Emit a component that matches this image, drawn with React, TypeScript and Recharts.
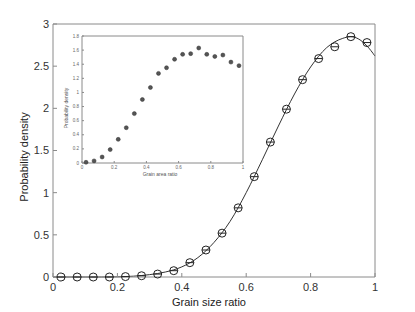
import React from 'react';
import { ComposedChart, ScatterChart, Scatter, Line, XAxis, YAxis } from 'recharts';

// main plot: grain size ratio (bin centres) and measured density
const sizeRatio = [0.025, 0.075, 0.125, 0.175, 0.225, 0.275, 0.325, 0.375, 0.425, 0.475, 0.525, 0.575, 0.625, 0.675, 0.725, 0.775, 0.825, 0.875, 0.925, 0.975];
const sizeDensity = [0, 0, 0, 0, 0.005, 0.015, 0.035, 0.075, 0.17, 0.32, 0.52, 0.82, 1.19, 1.6, 1.99, 2.34, 2.59, 2.73, 2.85, 2.78];

// fitted curve
const fitX = [0, 0.05, 0.1, 0.15, 0.2, 0.25, 0.3, 0.35, 0.4, 0.45, 0.5, 0.55, 0.6, 0.65, 0.7, 0.75, 0.8, 0.85, 0.9, 0.925, 0.95, 0.975, 1];
const fitY = [0, 0, 0, 0, 0.002, 0.01, 0.028, 0.06, 0.12, 0.23, 0.41, 0.66, 1.0, 1.39, 1.79, 2.17, 2.49, 2.72, 2.83, 2.85, 2.82, 2.74, 2.62];

// inset: grain area ratio
const areaRatio = [0.025, 0.075, 0.125, 0.175, 0.225, 0.275, 0.325, 0.375, 0.425, 0.475, 0.525, 0.575, 0.625, 0.675, 0.725, 0.775, 0.825, 0.875, 0.925, 0.975];
const areaDensity = [0.01, 0.03, 0.085, 0.19, 0.335, 0.5, 0.7, 0.9, 1.07, 1.27, 1.35, 1.47, 1.54, 1.55, 1.63, 1.54, 1.51, 1.53, 1.43, 1.38];

const mainXTicks = [0, 0.2, 0.4, 0.6, 0.8, 1];
const mainYTicks = [0, 0.5, 1, 1.5, 2, 2.5, 3];
const insetXTicks = [0, 0.2, 0.4, 0.6, 0.8, 1];
const insetYTicks = [0, 0.2, 0.4, 0.6, 0.8, 1, 1.2, 1.4, 1.6, 1.8];

const sizePoints = sizeRatio.map((x, i) => ({ x, y: sizeDensity[i] }));
const fitPoints = fitX.map((x, i) => ({ x, y: fitY[i] }));
const areaPoints = areaRatio.map((x, i) => ({ x, y: areaDensity[i] }));

const frame = '#8a8a8a';
const fmt = (v: number) => String(v);

const OpenMarker = (props: any) => {
  const { cx, cy } = props;
  return (
    <g>
      <circle cx={cx} cy={cy} r={4} fill="none" stroke="#222" strokeWidth={1} />
      <line x1={cx - 4} x2={cx + 4} y1={cy} y2={cy} stroke="#222" strokeWidth={1} />
    </g>
  );
};

const FilledMarker = (props: any) => {
  const { cx, cy } = props;
  return <circle cx={cx} cy={cy} r={2} fill="#555" stroke="#333" strokeWidth={0.5} />;
};

export default function App() {
  return (
    <div style={{ position: 'absolute', left: 0, top: 0, width: 415, height: 312, fontFamily: 'Arial, "Liberation Sans", sans-serif', background: '#fff' }}>
      <ComposedChart width={415} height={312} margin={{ top: 23, right: 39, left: 0, bottom: 0 }}>
        <XAxis
          dataKey="x" type="number" domain={[0, 1]} ticks={mainXTicks} tickFormatter={fmt}
          height={35} tickSize={-4} tickMargin={10}
          axisLine={{ stroke: frame }} tickLine={{ stroke: frame }}
          tick={{ fill: '#333', fontSize: 11 }}
          label={() => (
            <text x={209} y={306} textAnchor="middle" fontSize={11} fill="#222">Grain size ratio</text>
          )}
        />
        <XAxis
          xAxisId="top" orientation="top" type="number" domain={[0, 1]} ticks={mainXTicks}
          height={1} tickSize={-4} tick={false}
          axisLine={{ stroke: frame }} tickLine={{ stroke: frame }}
        />
        <YAxis
          dataKey="y" type="number" domain={[0, 3]} ticks={mainYTicks} tickFormatter={fmt}
          width={53} tickSize={-4} tickMargin={8}
          axisLine={{ stroke: frame }} tickLine={{ stroke: frame }}
          tick={{ fill: '#333', fontSize: 11 }}
          label={() => (
            <text x={28} y={157} transform="rotate(-90 28 157)" textAnchor="middle" fontSize={11} fill="#222">Probability density</text>
          )}
        />
        <YAxis
          yAxisId="right" orientation="right" type="number" domain={[0, 3]} ticks={mainYTicks}
          width={1} tickSize={-4} tick={false}
          axisLine={{ stroke: frame }} tickLine={{ stroke: frame }}
        />
        <Line data={fitPoints} dataKey="y" type="monotone" stroke="#333" strokeWidth={1} dot={false} isAnimationActive={false} />
        <Scatter data={sizePoints} dataKey="y" shape={<OpenMarker />} isAnimationActive={false} />
      </ComposedChart>

      <div style={{ position: 'absolute', left: 60, top: 28 }}>
        <ScatterChart width={190} height={156} margin={{ top: 7, right: 6, left: 0, bottom: 0 }}>
          <XAxis
            dataKey="x" type="number" domain={[0, 1]} ticks={insetXTicks} tickFormatter={fmt}
            height={21} tickSize={-2} tickMargin={5}
            axisLine={{ stroke: frame }} tickLine={{ stroke: frame }}
            tick={{ fill: '#666', fontSize: 4.5 }}
            label={() => (
              <text x={100} y={148} textAnchor="middle" fontSize={5} fill="#555">Grain area ratio</text>
            )}
          />
          <XAxis
            xAxisId="top" orientation="top" type="number" domain={[0, 1]} ticks={insetXTicks}
            height={1} tickSize={-2} tick={false}
            axisLine={{ stroke: frame }} tickLine={{ stroke: frame }}
          />
          <YAxis
            dataKey="y" type="number" domain={[0, 1.8]} ticks={insetYTicks} tickFormatter={fmt}
            width={22} tickSize={-2} tickMargin={5}
            axisLine={{ stroke: frame }} tickLine={{ stroke: frame }}
            tick={{ fill: '#666', fontSize: 4.5 }}
            label={() => (
              <text x={8} y={80} transform="rotate(-90 8 80)" textAnchor="middle" fontSize={5} fill="#555">Probability density</text>
            )}
          />
          <YAxis
            yAxisId="right" orientation="right" type="number" domain={[0, 1.8]} ticks={insetYTicks}
            width={1} tickSize={-2} tick={false}
            axisLine={{ stroke: frame }} tickLine={{ stroke: frame }}
          />
          <Scatter data={areaPoints} dataKey="y" shape={<FilledMarker />} isAnimationActive={false} />
        </ScatterChart>
      </div>
    </div>
  );
}
